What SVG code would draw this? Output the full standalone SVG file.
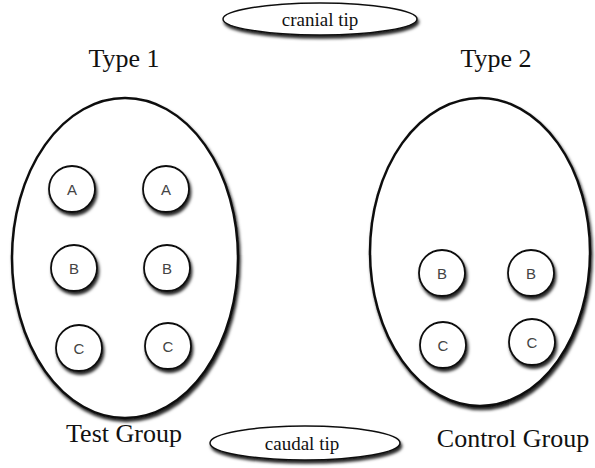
<svg xmlns="http://www.w3.org/2000/svg" width="595" height="468" viewBox="0 0 595 468">
<defs>
<filter id="sh" x="-20%" y="-20%" width="150%" height="150%">
<feDropShadow dx="1.5" dy="3" stdDeviation="1.5" flood-color="#000" flood-opacity="0.85"/>
</filter>
</defs>
<style>
.big{fill:#fff;stroke:#111;stroke-width:2.5;filter:url(#sh)}
.tip{fill:#fff;stroke:#111;stroke-width:1.5;filter:url(#sh)}
.c{fill:#fff;stroke:#111;stroke-width:1.8;filter:url(#sh)}
.cl{font-family:"Liberation Sans",Arial,sans-serif;font-size:15px;fill:#444;text-anchor:middle}
.lab{font-family:"Liberation Serif","Times New Roman",serif;font-size:26px;fill:#111;text-anchor:middle}
.tt{font-family:"Liberation Serif","Times New Roman",serif;font-size:19px;fill:#111;text-anchor:middle}
</style>
<g id="cranial"><ellipse class="tip" cx="320" cy="19" rx="97" ry="16"/><text class="tt" x="320" y="26">cranial tip</text></g>
<g id="caudal"><ellipse class="tip" cx="305" cy="443" rx="95" ry="17"/><text class="tt" x="302" y="450">caudal tip</text></g>
<g id="type1"><text class="lab" x="124" y="67">Type 1</text></g>
<g id="type2"><text class="lab" x="496" y="67">Type 2</text></g>
<g id="test"><ellipse class="big" cx="125" cy="258" rx="113" ry="160"/><text class="lab" x="124" y="442">Test Group</text></g>
<g id="control"><ellipse class="big" cx="480" cy="252" rx="110" ry="154"/><text class="lab" x="513" y="447">Control Group</text></g>
<g id="t-a1"><circle class="c" cx="72" cy="189" r="23"/><text class="cl" x="72" y="195">A</text></g>
<g id="t-a2"><circle class="c" cx="166" cy="189" r="23"/><text class="cl" x="166" y="195">A</text></g>
<g id="t-b1"><circle class="c" cx="74" cy="268" r="23"/><text class="cl" x="74" y="274">B</text></g>
<g id="t-b2"><circle class="c" cx="167" cy="268" r="23"/><text class="cl" x="167" y="274">B</text></g>
<g id="t-c1"><circle class="c" cx="79" cy="348" r="23"/><text class="cl" x="79" y="354">C</text></g>
<g id="t-c2"><circle class="c" cx="168" cy="346" r="23"/><text class="cl" x="168" y="352">C</text></g>
<g id="c-b1"><circle class="c" cx="442" cy="273" r="23"/><text class="cl" x="442" y="279">B</text></g>
<g id="c-b2"><circle class="c" cx="531" cy="273" r="23"/><text class="cl" x="531" y="279">B</text></g>
<g id="c-c1"><circle class="c" cx="443" cy="345" r="23"/><text class="cl" x="443" y="351">C</text></g>
<g id="c-c2"><circle class="c" cx="532" cy="342" r="23"/><text class="cl" x="532" y="348">C</text></g>
<g id="connectors"/>
</svg>
